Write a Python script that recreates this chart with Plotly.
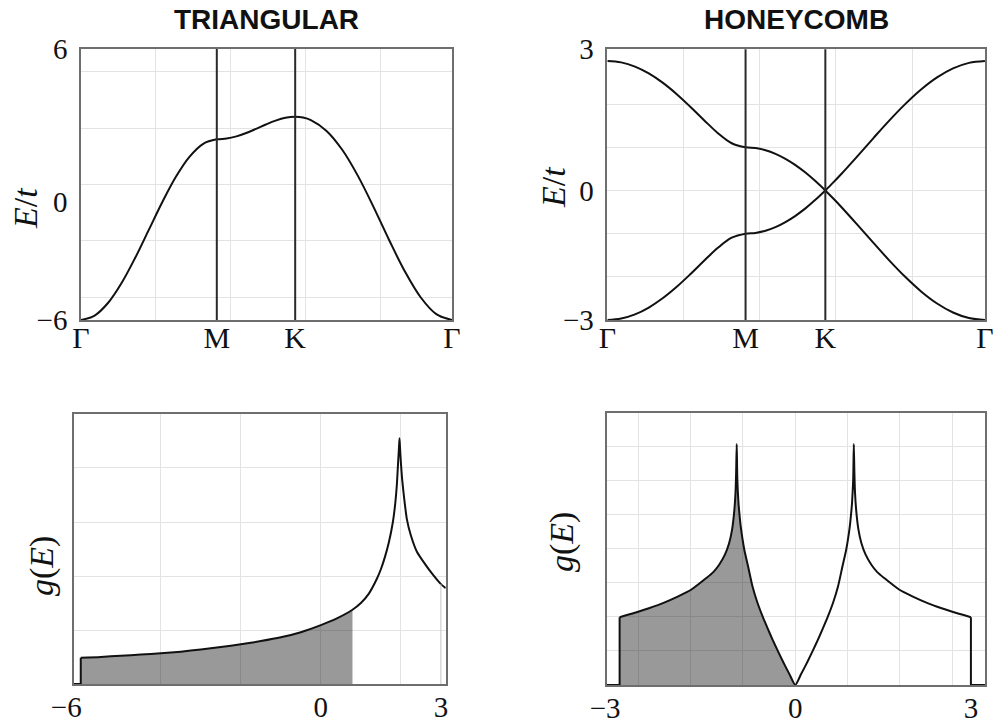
import plotly.graph_objects as go

# ---------------- band structure along Γ–M–K–Γ ----------------
# path coordinate (units of 1/a)
k_path = [0.0, 0.363, 0.726, 1.088, 1.451, 1.814, 2.177, 2.539, 2.902, 3.265, 3.628,
          3.890, 4.152, 4.413, 4.675, 4.937, 5.199, 5.460, 5.722,
          5.931, 6.141, 6.560, 6.979, 7.398, 7.817, 8.235, 8.654, 9.073, 9.492, 9.911]
sym_pos = [0.0, 3.628, 5.722, 9.911]
sym_labels = ["Γ", "M", "K", "Γ"]
k_index_K = 18

tri_band = [-6.0, -5.804, -5.236, -4.351, -3.236, -2.0, -0.764, 0.351, 1.236, 1.804, 2.0,
            2.034, 2.132, 2.281, 2.464, 2.656, 2.828, 2.953, 3.0,
            2.965, 2.854, 2.374, 1.538, 0.382, -1.0, -2.468, -3.854, -4.992, -5.740, -6.0]

honey_upper = [3.0, 2.967, 2.870, 2.711, 2.497, 2.236, 1.940, 1.628, 1.328, 1.094, 1.0,
               0.983, 0.932, 0.848, 0.732, 0.587, 0.415, 0.217, 0.0,
               0.187, 0.382, 0.791, 1.209, 1.618, 2.0, 2.338, 2.618, 2.827, 2.956, 3.0]
honey_lower = [-3.0, -2.967, -2.870, -2.711, -2.497, -2.236, -1.940, -1.628, -1.328, -1.094, -1.0,
               -0.983, -0.932, -0.848, -0.732, -0.587, -0.415, -0.217, 0.0,
               -0.187, -0.382, -0.791, -1.209, -1.618, -2.0, -2.338, -2.618, -2.827, -2.956, -3.0]

# ---------------- densities of states ----------------
tri_dos_E = [-6.17, -6.0, -6.0, -5.5, -5.0, -4.5, -4.0, -3.5, -3.0, -2.5, -2.0, -1.5, -1.0, -0.5,
             0.0, 0.4, 0.79, 1.0, 1.2, 1.4, 1.5, 1.6, 1.7, 1.8, 1.86, 1.9, 1.93, 1.95, 1.965,
             1.98, 2.0, 2.03, 2.08, 2.15, 2.25, 2.4, 2.6, 2.8, 3.0, 3.12]
tri_dos_g = [0.0, 0.0, 0.097, 0.100, 0.105, 0.109, 0.114, 0.120, 0.128, 0.137, 0.147, 0.159, 0.173, 0.192,
             0.218, 0.243, 0.275, 0.300, 0.335, 0.390, 0.425, 0.470, 0.525, 0.600, 0.670, 0.740, 0.820, 0.870, 0.910,
             0.870, 0.820, 0.760, 0.690, 0.610, 0.550, 0.490, 0.445, 0.405, 0.370, 0.355]
tri_EF = 0.79
tri_E_bottom = -6.0
tri_E_top = 3.0

hc_dos_E = [-3.22, -3.0, -3.0, -2.67, -2.5, -2.26, -2.0, -1.78, -1.52, -1.4, -1.3, -1.2, -1.13, -1.08,
            -1.04, -1.02, -1.01, -1.0, -0.99, -0.97, -0.96, -0.93, -0.9, -0.87, -0.8, -0.73, -0.65,
            -0.556, -0.47, -0.386, -0.3, -0.215, -0.1, 0.0,
            0.1, 0.215, 0.3, 0.386, 0.47, 0.556, 0.65, 0.73, 0.8, 0.87, 0.9, 0.93, 0.96, 0.97, 0.99,
            1.0, 1.01, 1.02, 1.04, 1.08, 1.13, 1.2, 1.3, 1.4, 1.52, 1.78, 2.0, 2.26, 2.5, 2.67, 3.0, 3.0, 3.24]
hc_dos_g = [0.0, 0.0, 0.249, 0.270, 0.282, 0.301, 0.326, 0.350, 0.393, 0.415, 0.442, 0.480, 0.521, 0.570,
            0.644, 0.710, 0.780, 0.886, 0.760, 0.670, 0.644, 0.580, 0.535, 0.497, 0.430, 0.362, 0.305,
            0.251, 0.207, 0.166, 0.126, 0.088, 0.040, 0.0,
            0.040, 0.088, 0.126, 0.166, 0.207, 0.251, 0.305, 0.362, 0.430, 0.497, 0.535, 0.580, 0.644, 0.670, 0.760,
            0.886, 0.780, 0.710, 0.644, 0.570, 0.521, 0.480, 0.442, 0.415, 0.393, 0.350, 0.326, 0.301, 0.282, 0.270, 0.249, 0.0, 0.0]
hc_EF = 0.0
hc_E_bottom = -3.0
hc_E_top = 3.0

# ---------------- styling ----------------
W, H = 994, 723
FRAME = "#6e6e6e"
GRID = "#e3e3e3"
FILL = "rgba(0,0,0,0.40)"
SERIF = "Liberation Serif"
SANS = "Liberation Sans"

fig = go.Figure()


def smooth(x, y, xa, ya, smoothing=1.0, width=2):
    fig.add_trace(go.Scatter(x=x, y=y, mode="lines",
                             line=dict(shape="spline", smoothing=smoothing, color="#111111", width=width),
                             xaxis=xa, yaxis=ya))


def straight(x, y, xa, ya, color="#111111", width=2):
    fig.add_trace(go.Scatter(x=x, y=y, mode="lines", line=dict(color=color, width=width),
                             xaxis=xa, yaxis=ya))


# triangular band
smooth(k_path, tri_band, "x", "y")

# honeycomb bands (Dirac crossing at K)
for band in (honey_upper, honey_lower):
    smooth(k_path[:k_index_K + 1], band[:k_index_K + 1], "x2", "y2")
    smooth(k_path[k_index_K:], band[k_index_K:], "x2", "y2")


def dos_fill(E, g, E_lo, EF, xa, ya):
    # occupied states shaded from the band bottom up to the Fermi level
    start = len(E) - 1 - E[::-1].index(E_lo)
    idx = [i for i in range(start, len(E)) if E[i] <= EF]
    fig.add_trace(go.Scatter(x=[E[i] for i in idx], y=[g[i] for i in idx], mode="lines",
                             line=dict(width=0, shape="spline", smoothing=0.6),
                             fill="tozeroy", fillcolor=FILL, xaxis=xa, yaxis=ya))
    return start


# triangular DOS: step at the band bottom, smooth body, faint step at the band top
s = dos_fill(tri_dos_E, tri_dos_g, tri_E_bottom, tri_EF, "x3", "y3")
straight(tri_dos_E[:s + 1], tri_dos_g[:s + 1], "x3", "y3")
smooth(tri_dos_E[s:], tri_dos_g[s:], "x3", "y3", smoothing=0.6)
i_top = tri_dos_E.index(tri_E_top)
straight([tri_E_top, tri_E_top], [tri_dos_g[i_top], 0], "x3", "y3", color="#c4c4c4", width=1)

# honeycomb DOS: steps at both band edges
s = dos_fill(hc_dos_E, hc_dos_g, hc_E_bottom, hc_EF, "x4", "y4")
e = hc_dos_E.index(hc_E_top)
straight(hc_dos_E[:s + 1], hc_dos_g[:s + 1], "x4", "y4")
smooth(hc_dos_E[s:e + 1], hc_dos_g[s:e + 1], "x4", "y4", smoothing=0.6)
straight(hc_dos_E[e:], hc_dos_g[e:], "x4", "y4")

# high-symmetry markers at M and K
for xa, ya in (("x", "y"), ("x2", "y2")):
    for kx in sym_pos[1:3]:
        fig.add_shape(type="line", xref=xa, yref=f"{ya} domain",
                      x0=kx, x1=kx, y0=0, y1=1, line=dict(color="#2a2a2a", width=2), layer="above")


def axis(domain, rng, tickvals=None, ticktext=None, grid=None, size=29, labels=True,
         zero=False, standoff=4):
    d = dict(domain=domain, range=rng, showline=True, mirror=True, linecolor=FRAME,
             linewidth=1.5, ticks="", showgrid=False, zeroline=zero, zerolinecolor=GRID,
             zerolinewidth=1, fixedrange=True, showticklabels=labels, automargin=False,
             tickfont=dict(family=SERIF, size=size, color="#111111"),
             ticklabelstandoff=standoff)
    if tickvals is not None:
        d.update(tickmode="array", tickvals=tickvals, ticktext=ticktext)
    if grid is not None:
        d["minor"] = dict(tickmode="array", tickvals=grid, showgrid=True, gridcolor=GRID,
                          gridwidth=1, ticks="")
    return d


k_grid = [2, 4, 6, 8]
tl_grid = [-5, -2.5, 0, 2.5, 5]
tr_grid = [-2, -1, 1, 2]
bl_grid_x = [-4, -2, 2]
bl_grid_y = [0.2, 0.4, 0.6, 0.8]
br_grid_x = [-2.683, -1.789, -0.894, 0.894, 1.789, 2.683]
br_grid_y = [0.125, 0.25, 0.375, 0.5, 0.625, 0.75, 0.875]

fig.update_layout(
    width=W, height=H, margin=dict(l=0, r=0, t=0, b=0, autoexpand=False),
    paper_bgcolor="white", plot_bgcolor="white", showlegend=False,
    xaxis=axis([0.0815, 0.4547], [0, 9.911], sym_pos, sym_labels, k_grid, size=30, standoff=-10),
    yaxis=axis([0.5574, 0.9322], [-6, 6], [-6, -0.75, 6], ["−6", "0", "6"], tl_grid, standoff=6),
    xaxis2=axis([0.6110, 0.9909], [0, 9.911], sym_pos, sym_labels, k_grid, size=30, standoff=-10),
    yaxis2=axis([0.5574, 0.9318], [-3, 3.27], [-3, 0, 3.27], ["−3", "0", "3"], tr_grid, zero=True, standoff=6),
    xaxis3=axis([0.0744, 0.4484], [-6.17, 3.12], [-6, 0, 3], ["−6\u2003", "0", "3"], bl_grid_x, zero=True, standoff=-4),
    yaxis3=axis([0.0539, 0.4274], [0, 1], None, None, bl_grid_y, labels=False),
    xaxis4=axis([0.6104, 0.9909], [-3.22, 3.24], [-3, 0, 3], ["−3\u2003", "0", "3"], br_grid_x, zero=True, standoff=-4),
    yaxis4=axis([0.0526, 0.4288], [0, 1], None, None, br_grid_y, labels=False),
)
for a in ("yaxis", "yaxis2", "yaxis3", "yaxis4"):
    fig.layout[a].anchor = "x" + a[5:]
for a in ("xaxis", "xaxis2", "xaxis3", "xaxis4"):
    fig.layout[a].anchor = "y" + a[5:]


def px(x, y):
    return x / W, 1 - y / H


notes = [
    ("<b>TRIANGULAR</b>", (266, 19), 0, SANS, 28),
    ("<b>HONEYCOMB</b>", (796, 19), 0, SANS, 28),
    ("<i>E</i>/<i>t</i>", (26, 208), -90, SERIF, 34),
    ("<i>E</i>/<i>t</i>", (554, 187), -90, SERIF, 34),
    ("<i>g</i>(<i>E</i>)", (42, 566), -90, SERIF, 34),
    ("<i>g</i>(<i>E</i>)", (562, 542), -90, SERIF, 34),
]
for text, (x, y), ang, fam, sz in notes:
    ax, ay = px(x, y)
    fig.add_annotation(text=text, x=ax, y=ay, xref="paper", yref="paper", showarrow=False,
                       textangle=ang, xanchor="center", yanchor="middle",
                       font=dict(family=fam, size=sz, color="#111111"))

fig.write_html("out.html")
